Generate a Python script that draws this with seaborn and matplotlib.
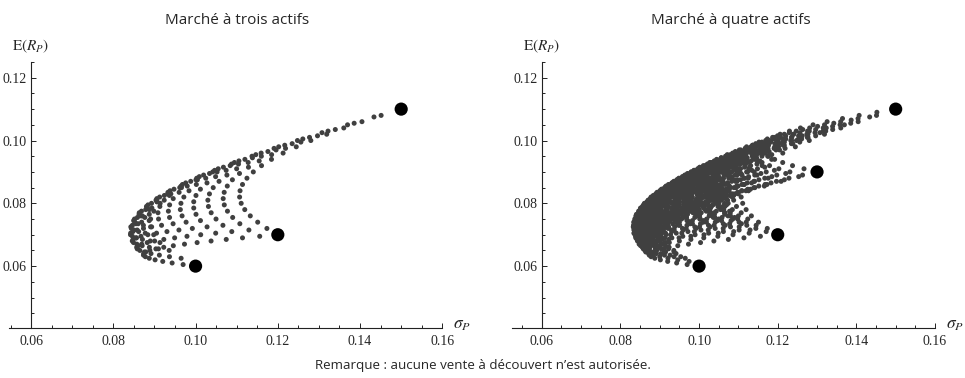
import numpy as np
import pandas as pd
import seaborn as sns
import matplotlib.pyplot as plt
from itertools import product

# actifs A, B, C, D
asset_sigma = [0.10, 0.12, 0.15, 0.13]
asset_mean = [0.06, 0.07, 0.11, 0.09]
# corrélations estimées à partir de la forme des nuages
corr = [[1.00, 0.30, 0.16, 0.35],
        [0.30, 1.00, 0.42, 0.45],
        [0.16, 0.42, 1.00, 0.40],
        [0.35, 0.45, 0.40, 1.00]]
weight_step = 0.05

titles = ["Marché à trois actifs", "Marché à quatre actifs"]
n_assets = [3, 4]
x_ticks = [0.06, 0.08, 0.10, 0.12, 0.14, 0.16]
y_ticks = [0.06, 0.08, 0.10, 0.12]
note = "Remarque : aucune vente à découvert n’est autorisée."


def portfolios(n):
    steps = int(round(1 / weight_step))
    sig = np.array(asset_sigma[:n])
    mu = np.array(asset_mean[:n])
    cov = np.array(corr)[:n, :n] * np.outer(sig, sig)
    rows = []
    for k in product(range(steps + 1), repeat=n - 1):
        if sum(k) > steps:
            continue
        w = np.array(list(k) + [steps - sum(k)]) / steps
        rows.append((np.sqrt(w @ cov @ w), w @ mu))
    return pd.DataFrame(rows, columns=["sigma", "ret"])


sns.set_style("ticks")
plt.rcParams["font.family"] = ["Liberation Serif", "DejaVu Serif"]
plt.rcParams["mathtext.fontset"] = "stix"

W, H = 965, 378
fig = plt.figure(figsize=(W / 100, H / 100), dpi=100)

# (gauche px, droite px, xmin) pour chaque panneau
boxes = [(9.3, 442.3, 0.0547), (512.3, 935.0, 0.0525)]
y_top, y_bot = 61.7, 328.3
ylim = (0.0402, 0.1251)
title_x = [237.5, 731.0]
sans = ["Open Sans", "DejaVu Sans"]

for i, n in enumerate(n_assets):
    x0, x1, xmin = boxes[i]
    ax = fig.add_axes([x0 / W, (H - y_bot) / H, (x1 - x0) / W, (y_bot - y_top) / H])
    df = portfolios(n)
    sns.scatterplot(data=df, x="sigma", y="ret", ax=ax, s=13, color="#404040",
                    edgecolor="none", linewidth=0)
    assets = pd.DataFrame({"sigma": asset_sigma[:n], "ret": asset_mean[:n]})
    sns.scatterplot(data=assets, x="sigma", y="ret", ax=ax, s=90, color="black",
                    edgecolor="none", linewidth=0, zorder=5)
    ax.set_xlim(xmin, 0.16)
    ax.set_ylim(*ylim)
    ax.set_xlabel("")
    ax.set_ylabel("")
    ax.spines["top"].set_visible(False)
    ax.spines["right"].set_visible(False)
    ax.spines["left"].set_position(("data", 0.06))
    for s in ["left", "bottom"]:
        ax.spines[s].set_linewidth(0.8)
        ax.spines[s].set_color("#222222")
    ax.set_xticks(x_ticks)
    ax.set_xticklabels([f"{t:.2f}" for t in x_ticks])
    ax.set_xticks(np.arange(0.055, 0.1601, 0.005), minor=True)
    ax.set_yticks(y_ticks)
    ax.set_yticklabels([f"{t:.2f}" for t in y_ticks])
    ax.set_yticks(np.arange(0.045, 0.1251, 0.005), minor=True)
    ax.tick_params(which="both", direction="in", labelsize=10, color="#222222", width=0.7)
    ax.tick_params(which="major", length=3.6)
    ax.tick_params(which="minor", length=2.2)
    ax.tick_params(axis="x", pad=5)
    ax.tick_params(axis="y", pad=3)
    ax.set_facecolor("none")

    # étiquettes des axes façon Mathematica
    ax_px = x0 + (0.06 - xmin) / (0.16 - xmin) * (x1 - x0)
    fig.text(ax_px / W, 1 - 46.7 / H, r"$\mathrm{E}(R_P)$", ha="center", va="center", fontsize=11)
    fig.text((x1 + 11) / W, 1 - 325 / H, r"$\sigma_P$", ha="left", va="center", fontsize=12.5)
    fig.text(title_x[i] / W, 1 - 20.7 / H, titles[i], ha="center", va="center",
             fontsize=11, family=sans)

fig.text(483 / W, 1 - 365 / H, note, ha="center", va="center", fontsize=9.6, family=sans)

fig.savefig("out.png", dpi=100)
